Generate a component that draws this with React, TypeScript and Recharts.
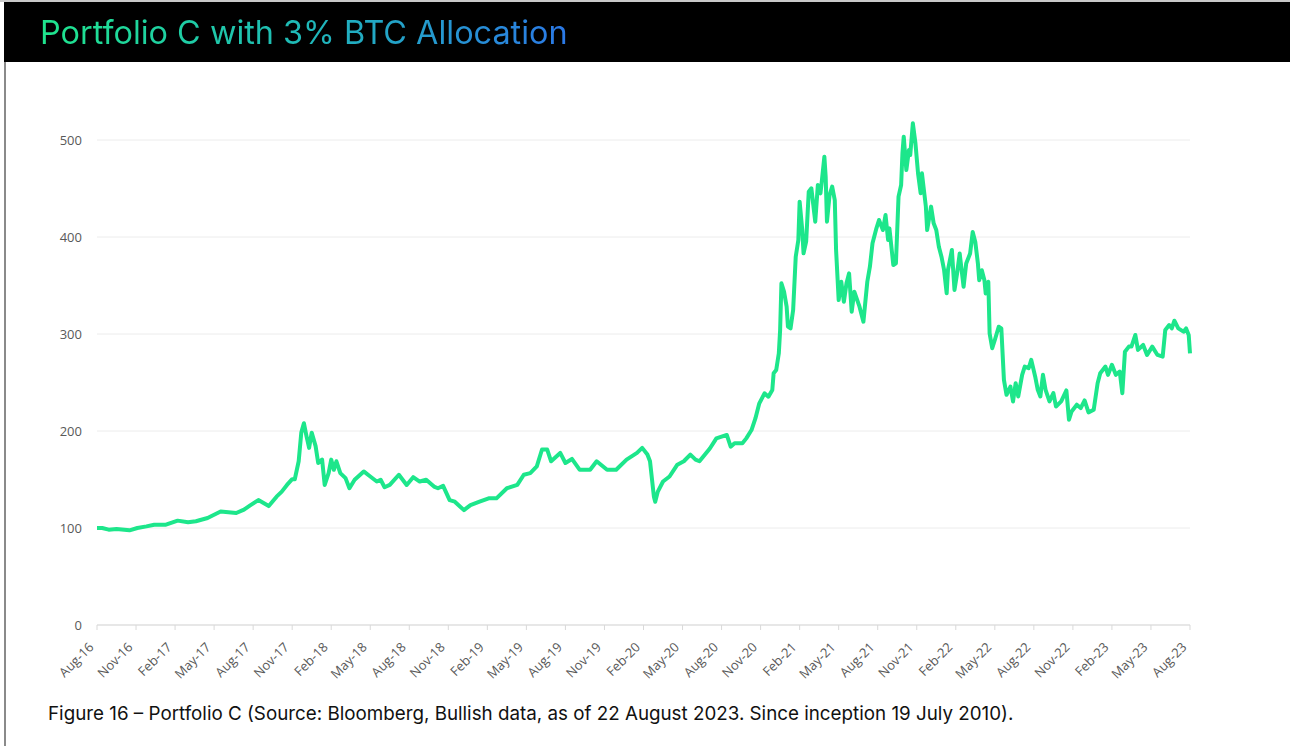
import React from 'react';
import { LineChart, Line, XAxis, YAxis, CartesianGrid } from 'recharts';

// x = months since Aug-16, y = portfolio index (100 at start)
const months = [
  0, 0.4, 0.9, 1.5, 2.5, 3.1, 3.8, 4.4, 5.3, 6.2, 7.0, 7.6, 8.5, 9.5, 10.7, 11.3,
  11.8, 12.4, 13.2, 13.8, 14.2, 14.6, 15.0, 15.2, 15.5, 15.7, 15.9, 16.1, 16.3, 16.5, 16.8, 17.0,
  17.3, 17.5, 17.8, 18.0, 18.2, 18.4, 18.7, 19.1, 19.4, 19.8, 20.5, 21.0, 21.5, 21.8, 22.1, 22.5,
  23.2, 23.8, 24.3, 24.8, 25.3, 25.9, 26.2, 26.6, 27.1, 27.5, 28.2, 28.7, 29.4, 30.1, 30.7, 31.5,
  32.3, 32.8, 33.3, 33.8, 34.2, 34.6, 34.9, 35.6, 36.0, 36.5, 37.1, 37.9, 38.4, 39.2, 39.9, 40.7,
  41.5, 41.9, 42.3, 42.5, 42.8, 42.9, 43.1, 43.5, 44.0, 44.6, 45.1, 45.6, 46.0, 46.3,
  47.1, 47.6, 48.0, 48.4, 48.7, 49.0, 49.6, 49.9, 50.3, 50.6, 50.9, 51.3, 51.6, 51.9, 52.0, 52.2,
  52.4, 52.5, 52.6, 52.8, 53.0, 53.1, 53.3, 53.5, 53.7, 53.9, 54.0, 54.2, 54.3, 54.5, 54.7, 54.9,
  55.2, 55.4, 55.6, 55.7, 55.9, 56.0, 56.1, 56.3, 56.5, 56.7, 56.8, 57.0, 57.2, 57.4, 57.6, 57.8,
  58.0, 58.2, 58.6, 58.9, 59.2, 59.4, 59.6, 59.9, 60.1, 60.4, 60.6, 60.8, 60.9, 61.2, 61.4, 61.6,
  61.8, 61.9, 62.0, 62.2, 62.4, 62.5, 62.7, 62.9, 63.1, 63.3, 63.4, 63.7, 63.8, 64.1, 64.3, 64.5,
  64.7, 64.9, 65.1, 65.3, 65.4, 65.7, 65.9, 66.1,
  66.3, 66.6, 66.8, 67.1, 67.3, 67.5, 67.7, 67.8, 68.0, 68.2, 68.3, 68.5, 68.6, 68.8, 69.0, 69.3,
  69.5, 69.7, 69.9, 70.2, 70.4, 70.6, 70.8, 71.1, 71.3, 71.6, 71.8, 72.1, 72.3, 72.5, 72.7, 72.9,
  73.2, 73.5, 73.7, 74.1, 74.5, 74.7, 74.9, 75.3, 75.6, 75.9, 76.2, 76.6, 76.9, 77.1, 77.5, 77.7,
  78.0, 78.3, 78.6, 78.8, 79.0, 79.3, 79.5, 79.8, 80.0, 80.4, 80.7, 81.1, 81.5, 81.9, 82.1, 82.4,
  82.6, 82.8, 83.1, 83.5, 83.7, 83.9, 84.0,
];

const values = [
  100, 100, 98.3, 99, 97.6, 100, 101.7, 103.4, 103.4, 107.6, 105.9, 107, 110.3, 117, 115.5, 119,
  123.6, 128.8, 122.6, 132.3, 137.5, 144.4, 150.3, 150.3, 168.8, 198.3, 208, 194.8, 182.6, 198.3, 184.4, 167,
  170.5, 144.4, 156.6, 170.5, 160, 168.8, 156.6, 151.4, 141, 149.7, 158.3, 153.1, 147.9, 149.7, 142, 144.4,
  154.9, 144.4, 152.4, 147.9, 149.7, 142.7, 141, 143.4, 128.8, 127.1, 118.4, 123.6, 127.1, 130.6, 130.6, 141,
  144.4, 154.9, 156.6, 163.5, 180.9, 180.9, 168.8, 177.4, 167, 171.2, 160, 160, 168.8, 160, 160, 170.5,
  177.4, 182.6, 175.7, 168.8, 132.3, 127.1, 137.5, 147.9, 153.1, 165.3, 168.8, 175.7, 170.5, 168.8,
  182, 192.4, 194.2, 195.9, 183.8, 187.3, 187.3, 192.4, 201, 213, 228.5, 238.8, 235.4, 242.3, 259.5, 262.9,
  280.1, 304.1, 352.2, 343.6, 328.2, 307.6, 305.8, 324.7, 379.7, 396.9, 436.4, 407.2, 383.2, 395.2, 446.7, 450.2,
  415.8, 453.6, 445, 457, 482.8, 462.2, 415.8, 443.3, 451.9, 438.1, 386.6, 335, 353.9, 333.3, 352.2, 362.5,
  323, 343.6, 328.2, 312.7, 353.9, 369.4, 393.5, 408.9, 417.5, 407.2, 422.7, 396.9, 408.9, 371.1, 372.9, 441.6,
  453.6, 486.3, 503.4, 469.1, 489.7, 484.5, 517.2, 496.6, 465.6, 445, 465.6, 431.3, 407.2, 431.3, 414.1, 407.2,
  390, 379.7, 366, 341.9, 366, 386.6, 345.4, 362.5,
  382.9, 348.6, 372.6, 382.9, 405.1, 394.9, 372.6, 355.5, 365.8, 355.5, 341.8, 353.8, 300.7, 285.3, 293.8, 307.5,
  305.8, 252.7, 237.3, 245.9, 230.5, 249.3, 235.6, 257.9, 266.4, 264.7, 273.3, 256.2, 242.5, 235.6, 257.9, 242.5,
  230.5, 239, 225.3, 230.5, 241.8, 211.6, 220.2, 227.1, 223.6, 231.5, 219.2, 221.9, 249.3, 259.6, 266.4, 257.9,
  268.2, 257.9, 261.3, 239, 281.8, 287, 287, 299, 283.6, 288.7, 278.4, 287, 278.4, 276.7, 304.1, 309.2,
  305.8, 313.7, 305.8, 302.4, 305.8, 299, 280.1,
];

const tickLabels = [
  'Aug-16', 'Nov-16', 'Feb-17', 'May-17', 'Aug-17', 'Nov-17', 'Feb-18', 'May-18', 'Aug-18', 'Nov-18',
  'Feb-19', 'May-19', 'Aug-19', 'Nov-19', 'Feb-20', 'May-20', 'Aug-20', 'Nov-20', 'Feb-21', 'May-21',
  'Aug-21', 'Nov-21', 'Feb-22', 'May-22', 'Aug-22', 'Nov-22', 'Feb-23', 'May-23', 'Aug-23',
];
const yTicks = [0, 100, 200, 300, 400, 500];

const data = months.map((t, i) => ({ t, v: values[i] }));
const xTicks = tickLabels.map((_, i) => i * 3);

const XTick = (props: any) => {
  const { x, y, payload } = props;
  const label = tickLabels[Math.round(payload.value / 3)];
  return (
    <g transform={`translate(${x - 2.5},${y + 16})`}>
      <text x={0} y={0} textAnchor="end" transform="rotate(-45)"
        fill="#595959" fontSize={13} fontFamily="'Open Sans', sans-serif">{label}</text>
    </g>
  );
};

export default function App() {
  return (
    <div style={{ position: 'absolute', left: 0, top: 0, width: 1290, height: 746, background: '#fff', overflow: 'hidden' }}>
      <LineChart width={1290} height={746} data={data}
        margin={{ top: 91.5, right: 100, bottom: 61, left: 37 }}
        style={{ position: 'absolute', left: 0, top: 0 }}>
        <CartesianGrid vertical={false} stroke="#ececec" horizontalValues={yTicks} />
        <XAxis type="number" dataKey="t" domain={[0, 84]} ticks={xTicks} interval={0}
          height={60} tick={<XTick />} tickSize={5} tickMargin={2}
          axisLine={{ stroke: '#d9d9d9' }} tickLine={{ stroke: '#d9d9d9' }} />
        <YAxis domain={[0, 550]} ticks={yTicks} width={60} axisLine={false} tickLine={false}
          tickSize={0} tickMargin={15}
          tick={{ fill: '#595959', fontSize: 13, fontFamily: "'Open Sans', sans-serif" }} />
        <Line type="linear" dataKey="v" stroke="#1de68b" strokeWidth={4} dot={false}
          strokeLinejoin="round" isAnimationActive={false} />
      </LineChart>
      <div style={{ position: 'absolute', left: 0, top: 0, width: 1290, height: 2, background: '#c8c8c8' }} />
      <div style={{ position: 'absolute', left: 4, top: 2, width: 1286, height: 60, background: '#000' }}>
        <div style={{
          position: 'absolute', left: 36, top: 12, fontFamily: 'Inter, sans-serif', fontSize: 32.4,
          lineHeight: '38px', whiteSpace: 'nowrap', display: 'inline-block',
          background: 'linear-gradient(90deg, #1fe58d 0%, #1fb9b8 50%, #2b78e6 100%)',
          WebkitBackgroundClip: 'text', backgroundClip: 'text', color: 'transparent',
        }}>Portfolio C with 3% BTC Allocation</div>
      </div>
      <div style={{ position: 'absolute', left: 4, top: 62, width: 1.5, height: 684, background: '#8a8a8a' }} />
      <div style={{
        position: 'absolute', left: 48, top: 703, fontFamily: 'Inter, sans-serif', fontSize: 18.8,
        color: '#111', whiteSpace: 'nowrap', lineHeight: '22px',
      }}>Figure 16 – Portfolio C (Source: Bloomberg, Bullish data, as of 22 August 2023. Since inception 19 July 2010).</div>
    </div>
  );
}
